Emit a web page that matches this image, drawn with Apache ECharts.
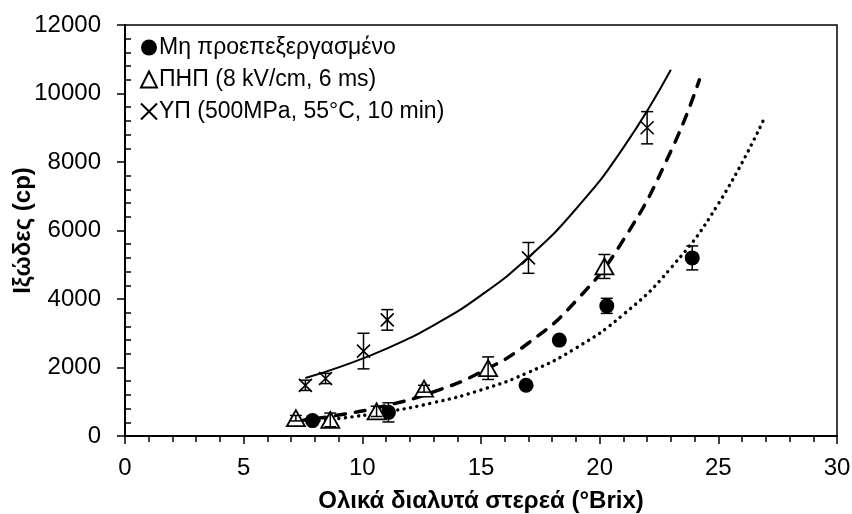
<!DOCTYPE html>
<html><head><meta charset="utf-8">
<script src="https://cdn.jsdelivr.net/npm/echarts@6/dist/echarts.min.js"></script>
<style>html,body{margin:0;padding:0;background:#fff}#c{width:852px;height:514px}</style>
</head><body><div id="c"></div>
<script>
// Series names
const nameUntreated = 'Μη προεπεξεργασμένο';
const namePEF = 'ΠΗΠ (8 kV/cm, 6 ms)';
const nameHPP = 'ΥΠ (500MPa, 55°C, 10 min)';

// Measured points: x (°Brix), viscosity (cp), error (±cp)
const xUntreated = [7.9, 11.1, 16.9, 18.3, 20.3, 23.9];
const yUntreated = [450, 690, 1480, 2800, 3800, 5200];
const eUntreated = [0, 280, 0, 0, 220, 350];

const xPEF = [7.2, 8.65, 10.6, 12.6, 15.3, 20.2];
const yPEF = [520, 470, 720, 1380, 1980, 4950];
const ePEF = [80, 200, 150, 100, 330, 350];

const xHPP = [7.6, 8.45, 10.05, 11.05, 17.0, 22.0];
const yHPP = [1480, 1680, 2480, 3390, 5200, 9000];
const eHPP = [150, 150, 520, 300, 450, 470];

// Trend lines
const xTrendUntreated = [7.9, 9, 11, 13, 15, 17, 19, 21, 23, 25, 26.9];
const yTrendUntreated = [426, 509, 704, 973, 1344, 1858, 2568, 3549, 4905, 6779, 9220];

const xTrendPEF = [7.2, 9, 11, 13, 15, 17, 19, 21, 23, 24.2];
const yTrendPEF = [437, 611, 887, 1288, 1870, 2716, 3943, 5725, 8314, 10399];

const xTrendHPP = [7.6, 9, 11, 13, 15, 17, 19, 21, 23];
const yTrendHPP = [1695, 2004, 2545, 3233, 4107, 5217, 6627, 8418, 10693];

// Axis ticks
const xMin = 0, xMax = 30, xStep = 5;
const yMin = 0, yMax = 12000, yStep = 2000;

const FONT = '"Liberation Sans", Arial, sans-serif';
const zip = (xs, ys) => xs.map((x, i) => [x, ys[i]]);
const zip3 = (xs, ys, es) => xs.map((x, i) => [x, ys[i], es[i]]);
const X_PATH = 'path://M0,0L10,10M10,0L0,10';

function errRender(params, api) {
  const x = api.value(0), y = api.value(1), e = api.value(2);
  if (!e) return null;
  const top = api.coord([x, y + e]);
  const bot = api.coord([x, y - e]);
  const hw = 6;
  const st = { stroke: '#000', lineWidth: 1.5 };
  return { type: 'group', children: [
    { type: 'line', shape: { x1: top[0], y1: top[1], x2: bot[0], y2: bot[1] }, style: st },
    { type: 'line', shape: { x1: top[0] - hw, y1: top[1], x2: top[0] + hw, y2: top[1] }, style: st },
    { type: 'line', shape: { x1: bot[0] - hw, y1: bot[1], x2: bot[0] + hw, y2: bot[1] }, style: st }
  ]};
}

const chart = echarts.init(document.getElementById('c'), null, { renderer: 'canvas' });
chart.setOption({
  animation: false,
  backgroundColor: '#fff',
  grid: { left: 125, right: 15, top: 25, bottom: 78, show: true, borderColor: '#000', borderWidth: 1.5,
    backgroundColor: 'transparent', containLabel: false, outerBoundsMode: 'none' },
  legend: {
    data: [nameUntreated, namePEF, nameHPP],
    orient: 'vertical', left: 135, top: 31,
    itemWidth: 16, itemHeight: 16, itemGap: 9,
    textStyle: { fontFamily: FONT, fontSize: 23, color: '#000', padding: [0, 0, 0, -3] },
    selectedMode: false
  },
  xAxis: {
    type: 'value', min: xMin, max: xMax, interval: xStep,
    name: 'Ολικά διαλυτά στερεά (°Brix)', nameLocation: 'middle', nameGap: 53, nameMoveOverlap: false,
    nameTextStyle: { fontFamily: FONT, fontSize: 24, fontWeight: 'bold', color: '#000' },
    axisLine: { show: true, lineStyle: { color: '#000', width: 2 } },
    axisTick: { show: true, length: 8, lineStyle: { color: '#000', width: 1.5 } },
    minorTick: { show: true, splitNumber: 5, length: 6, lineStyle: { color: '#000', width: 1.5 } },
    axisLabel: { fontFamily: FONT, fontSize: 24, color: '#000', margin: 20, formatter: v => String(v) },
    splitLine: { show: false }
  },
  yAxis: [{
    type: 'value', min: yMin, max: yMax, interval: yStep,
    name: 'Ιξώδες (cp)', nameLocation: 'middle', nameGap: 90, nameMoveOverlap: false,
    nameTextStyle: { fontFamily: FONT, fontSize: 24, fontWeight: 'bold', color: '#000' },
    axisLine: { show: true, lineStyle: { color: '#000', width: 2 } },
    axisTick: { show: true, length: 8, lineStyle: { color: '#000', width: 1.5 } },
    axisLabel: { fontFamily: FONT, fontSize: 24, color: '#000', margin: 24, formatter: v => String(v) },
    splitLine: { show: false }
  }, {
    type: 'value', min: yMin, max: yMax, interval: yStep, position: 'left', offset: 0,
    axisLine: { show: false }, axisLabel: { show: false }, splitLine: { show: false },
    axisTick: { show: false, inside: true },
    minorTick: { show: true, splitNumber: 5, length: 6, lineStyle: { color: '#000', width: 1.5 } }
  }],
  series: [
    { name: 'trendUntreated', type: 'line', data: zip(xTrendUntreated, yTrendUntreated), smooth: true, showSymbol: false, silent: true,
      lineStyle: { color: '#000', width: 3.4, type: [0.1, 6.5], cap: 'round' }, z: 1 },
    { name: 'trendPEF', type: 'line', data: zip(xTrendPEF, yTrendPEF), smooth: true, showSymbol: false, silent: true,
      lineStyle: { color: '#000', width: 3.5, type: [10, 10], cap: 'round' }, z: 1 },
    { name: 'trendHPP', type: 'line', data: zip(xTrendHPP, yTrendHPP), smooth: true, showSymbol: false, silent: true,
      lineStyle: { color: '#000', width: 2 }, z: 1 },
    { name: nameUntreated, type: 'scatter', data: zip(xUntreated, yUntreated), symbol: 'circle', symbolSize: 15,
      itemStyle: { color: '#000', opacity: 1 }, z: 3 },
    { name: namePEF, type: 'scatter', data: zip(xPEF, yPEF), symbol: 'triangle', symbolSize: [18, 16],
      itemStyle: { color: '#fff', borderColor: '#000', borderWidth: 1.8, opacity: 1 }, z: 3 },
    { name: nameHPP, type: 'scatter', data: zip(xHPP, yHPP), symbol: X_PATH, symbolSize: 13,
      itemStyle: { color: 'transparent', borderColor: '#000', borderWidth: 1.6, opacity: 1 }, z: 3 },
    { name: 'errUntreated', type: 'custom', renderItem: errRender, data: zip3(xUntreated, yUntreated, eUntreated), z: 4, silent: true },
    { name: 'errPEF', type: 'custom', renderItem: errRender, data: zip3(xPEF, yPEF, ePEF), z: 4, silent: true },
    { name: 'errHPP', type: 'custom', renderItem: errRender, data: zip3(xHPP, yHPP, eHPP), z: 4, silent: true }
  ]
});
</script>
</body></html>
